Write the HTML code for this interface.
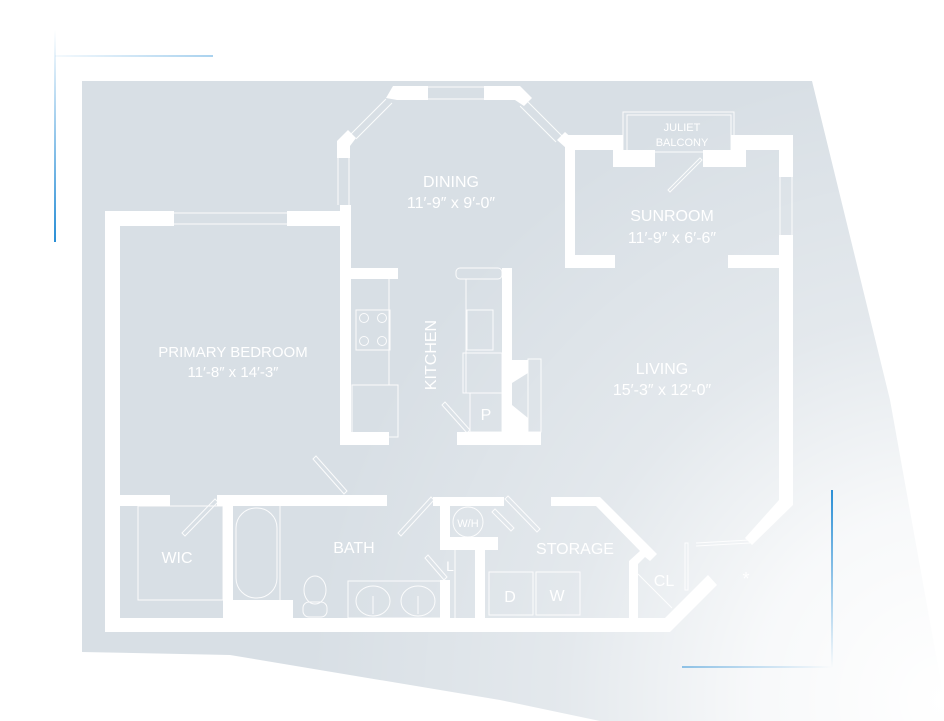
<!DOCTYPE html>
<html><head><meta charset="utf-8"><style>
html,body{margin:0;padding:0;background:#fff;}
svg{display:block;}
text{font-family:"Liberation Sans",sans-serif;fill:#fff;}
</style></head><body>
<svg width="944" height="721" viewBox="0 0 944 721" xmlns="http://www.w3.org/2000/svg">
<defs>
<radialGradient id="fade" cx="944" cy="700" r="640" gradientUnits="userSpaceOnUse">
<stop offset="0" stop-color="#fff" stop-opacity="1"/>
<stop offset="0.3" stop-color="#fff" stop-opacity="0.8"/>
<stop offset="0.6" stop-color="#fff" stop-opacity="0.3"/>
<stop offset="1" stop-color="#fff" stop-opacity="0"/>
</radialGradient>
<linearGradient id="bv" x1="0" y1="0" x2="0" y2="1"><stop offset="0" stop-color="#2a8fd6" stop-opacity="0"/><stop offset="1" stop-color="#2a8fd6"/></linearGradient>
<linearGradient id="bh" x1="0" y1="0" x2="1" y2="0"><stop offset="0" stop-color="#2a8fd6" stop-opacity="0.05"/><stop offset="1" stop-color="#2a8fd6" stop-opacity="0.4"/></linearGradient>
<linearGradient id="bv2" x1="0" y1="0" x2="0" y2="1"><stop offset="0" stop-color="#2a8fd6"/><stop offset="1" stop-color="#2a8fd6" stop-opacity="0"/></linearGradient>
<linearGradient id="bh2" x1="0" y1="0" x2="1" y2="0"><stop offset="0" stop-color="#2a8fd6" stop-opacity="0.5"/><stop offset="1" stop-color="#2a8fd6" stop-opacity="0"/></linearGradient>
</defs>
<polygon points="82,81 812,81 890,400 944,700 944,721 600,721 500,700 230,655 82,652" fill="#d8dfe5"/>
<g fill="#fff">
<rect x="105" y="211" width="69" height="15"/><rect x="287" y="211" width="64" height="15"/>
<rect x="105" y="211" width="15" height="421"/>
<rect x="340" y="205" width="11" height="240"/>
<polygon points="337,141 348,130 356,138 350,146 350,158 337,158"/>
<polygon points="386,98 393,86 428,86 428,100 397,100"/>
<polygon points="484,86 520,86 532,98 524,106 515,100 484,100"/>
<polygon points="557,140 565,132 574,140 566,148"/>
<rect x="565" y="135" width="58" height="15"/><rect x="613" y="150" width="42" height="17"/>
<rect x="565" y="135" width="10" height="133"/><rect x="565" y="255" width="50" height="13"/>
<rect x="731" y="135" width="62" height="15"/><rect x="703" y="150" width="43" height="17"/>
<rect x="779" y="135" width="14" height="42"/>
<rect x="728" y="255" width="51" height="13"/>
<polygon points="779,235 793,235 793,505 752,545 745,538 779,500"/>
<polygon points="105,618 665,618 708,575 717,585 670,632 105,632"/>
<rect x="120" y="495" width="50" height="11"/>
<rect x="217" y="495" width="170" height="11"/>
<rect x="223" y="506" width="10" height="112"/>
<rect x="233" y="600" width="60" height="18"/>
<rect x="433" y="497" width="71" height="9"/>
<rect x="440" y="506" width="10" height="44"/>
<rect x="440" y="537" width="58" height="13"/>
<rect x="475" y="550" width="10" height="68"/>
<rect x="440" y="580" width="10" height="38"/>
<polygon points="551,497 600,497 657,554 650,561 645,557 638,564 638,618 629,618 629,561 640,551 596,506 551,506"/>
<rect x="351" y="268" width="47" height="11"/>
<rect x="351" y="432" width="38" height="13"/>
<rect x="502" y="268" width="10" height="164"/>
<rect x="457" y="432" width="84" height="13"/>
<polygon points="512,360 528,360 528,373 512,383 512,405 528,418 528,432 512,432"/>
</g>
<g fill="none" stroke="#fff" stroke-width="1" opacity="0.9">
<line x1="174" y1="213" x2="287" y2="213"/><line x1="174" y1="224" x2="287" y2="224"/>
<line x1="338" y1="158" x2="338" y2="205"/><line x1="349" y1="158" x2="349" y2="205"/>
<line x1="350" y1="135" x2="386" y2="99"/><line x1="356" y1="139" x2="392" y2="103"/>
<line x1="428" y1="87" x2="484" y2="87"/><line x1="428" y1="99" x2="484" y2="99"/>
<line x1="526" y1="100" x2="562" y2="136"/><line x1="520" y1="106" x2="556" y2="142"/>
<rect x="623" y="112" width="111" height="40"/><rect x="627" y="115" width="104" height="37"/>
<line x1="780" y1="177" x2="780" y2="235"/><line x1="792" y1="177" x2="792" y2="235"/>
<polygon points="668,190 670,192 702,160 700,158"/>
<line x1="696" y1="543" x2="750" y2="540"/><line x1="696" y1="546" x2="750" y2="543"/>
<rect x="685" y="543" width="3" height="47"/>
<line x1="638" y1="574" x2="672" y2="608"/>
<line x1="389" y1="279" x2="389" y2="385"/>
<rect x="356" y="310" width="34" height="40"/>
<circle cx="364" cy="318" r="4.5"/><circle cx="382" cy="318" r="4.5"/><circle cx="364" cy="341" r="4.5"/><circle cx="382" cy="341" r="4.5"/>
<rect x="352" y="385" width="46" height="52"/>
<rect x="456" y="268" width="46" height="11" rx="4"/>
<line x1="466" y1="279" x2="466" y2="393"/>
<rect x="467" y="310" width="26" height="40"/>
<rect x="463" y="353" width="39" height="40"/>
<rect x="470" y="393" width="32" height="39"/>
<rect x="528" y="359" width="13" height="73"/>
<polygon points="442,405 445,402 470,430 467,433"/>
<polygon points="313,459 316,456 347,491 344,494"/>
<rect x="138" y="506" width="85" height="94"/>
<polygon points="182,533 185,536 218,502 215,499"/>
<rect x="236" y="508" width="41" height="90" rx="20"/>
<line x1="280" y1="506" x2="280" y2="600"/>
<ellipse cx="315" cy="590" rx="11" ry="14"/>
<rect x="303" y="602" width="24" height="15" rx="6"/>
<rect x="348" y="581" width="93" height="37"/>
<ellipse cx="373" cy="601" rx="17" ry="15"/><ellipse cx="418" cy="601" rx="17" ry="15"/>
<line x1="373" y1="596" x2="373" y2="614"/><line x1="418" y1="596" x2="418" y2="614"/>
<polygon points="398,533 401,536 434,500 431,497"/>
<polygon points="425,558 428,555 447,577 444,580"/>
<circle cx="468" cy="522" r="15"/>
<polygon points="492,512 495,509 514,528 511,531"/>
<polygon points="505,499 508,496 540,529 537,532"/>
<line x1="455" y1="550" x2="455" y2="618"/>
<rect x="489" y="572" width="44" height="43"/><rect x="536" y="572" width="44" height="43"/>
</g>
<g text-anchor="middle">
<text x="233" y="357" font-size="15">PRIMARY BEDROOM</text>
<text x="233" y="377" font-size="15">11′-8″ x 14′-3″</text>
<text x="451" y="187" font-size="16">DINING</text>
<text x="451" y="208" font-size="16">11′-9″ x 9′-0″</text>
<text x="672" y="221" font-size="16">SUNROOM</text>
<text x="672" y="243" font-size="16">11′-9″ x 6′-6″</text>
<text x="662" y="374" font-size="16">LIVING</text>
<text x="662" y="395" font-size="16">15′-3″ x 12′-0″</text>
<text x="682" y="131" font-size="11">JULIET</text>
<text x="682" y="146" font-size="11">BALCONY</text>
<text transform="translate(436,355) rotate(-90)" font-size="16">KITCHEN</text>
<text x="486" y="420" font-size="16">P</text>
<text x="177" y="563" font-size="16">WIC</text>
<text x="354" y="553" font-size="16">BATH</text>
<text x="575" y="554" font-size="16">STORAGE</text>
<text x="468" y="527" font-size="11">W/H</text>
<text x="450" y="571" font-size="14">L</text>
<text x="510" y="602" font-size="16">D</text>
<text x="557" y="601" font-size="16">W</text>
<text x="664" y="586" font-size="16">CL</text>
<text x="746" y="585" font-size="18">*</text>
</g>
<rect x="0" y="0" width="944" height="721" fill="url(#fade)"/>
<rect x="54" y="30" width="2" height="212" fill="url(#bv)"/>
<rect x="55" y="55" width="158" height="2" fill="url(#bh)"/>
<rect x="831" y="490" width="2" height="178" fill="url(#bv2)"/>
<rect x="682" y="666" width="150" height="2" fill="url(#bh2)"/>
</svg>
</body></html>
